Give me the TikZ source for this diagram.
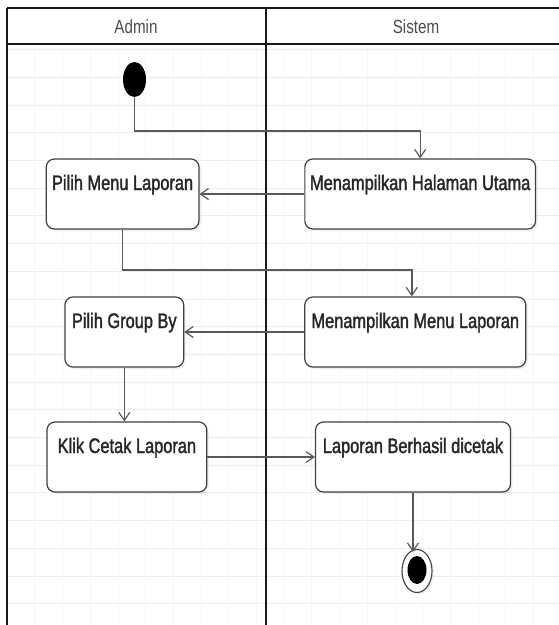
\documentclass[tikz,border=0pt]{standalone}
\usepackage{fontspec}
\setmainfont{Liberation Sans}[FakeStretch=0.8]
\newfontfamily\boxfont{Liberation Sans}[FakeStretch=0.78,FakeBold=1.6]
\usetikzlibrary{arrows.meta,shapes.geometric,shadows}
\tikzset{
  act/.style={draw=black!75, line width=1.2pt, rounded corners=8pt, fill=white,
    drop shadow={shadow xshift=2pt, shadow yshift=-2pt, opacity=0.12},
    inner sep=0pt, text height=31pt, text depth=39pt,
    font=\boxfont\fontsize{21}{24}\selectfont, text=black!85},
  conn/.style={draw=black!65, line width=1.4pt},
  arr/.style={conn, -{Straight Barb[length=8pt,width=11pt,line width=1.2pt]}},
  lane/.style={line width=2.4pt, black!90},
  hdr/.style={font=\fontsize{19}{21}\selectfont, text=black!70, inner sep=0pt},
}
\begin{document}
\begin{tikzpicture}[x=1pt,y=-1pt]
\useasboundingbox (0,0) rectangle (559,625);
\fill[white] (0,0) rectangle (559,625);
% grid
\begin{scope}
\clip (7,44) rectangle (559,625);
\foreach \k in {0,...,21} {
  \draw[black!7, line width=0.6pt] (7,{49.5+27.7*\k}) -- (559,{49.5+27.7*\k});
}
\foreach \k in {0,...,20} {
  \draw[black!4, line width=0.6pt] ({7+27.7*\k},44) -- ({7+27.7*\k},625);
}
\end{scope}
% swimlane frame
\draw[lane] (7,8) -- (559,8);
\draw[lane] (7,44) -- (559,44);
\draw[lane] (7,8) -- (7,625);
\draw[lane] (266,8) -- (266,625);
\node[hdr] (hadmin) at (136,27) {Admin};
\node[hdr] (hsistem) at (416,27) {Sistem};
% nodes
\node[ellipse, fill=black, minimum width=23pt, minimum height=35pt, inner sep=0pt] (start) at (134.5,79.5) {};
\node[act, minimum width=152.6pt] (b1) at (122.6,194) {Pilih Menu Laporan};
\node[act, minimum width=230.7pt] (b2) at (420.2,194) {Menampilkan Halaman Utama};
\node[act, minimum width=118.7pt] (b3) at (124.3,332) {Pilih Group By};
\node[act, minimum width=221pt] (b4) at (415.3,332) {Menampilkan Menu Laporan};
\node[act, minimum width=159.8pt] (b5) at (126.9,457) {Klik Cetak Laporan};
\node[act, minimum width=195pt] (b6) at (413,457) {Laporan Berhasil dicetak};
\node[ellipse, draw=black!75, line width=1.1pt, fill=white, minimum width=30pt, minimum height=43pt, inner sep=0pt,
  drop shadow={shadow xshift=2pt, shadow yshift=-2pt, opacity=0.12}] (endo) at (417,571) {};
\node[ellipse, fill=black, minimum width=19pt, minimum height=28pt, inner sep=0pt] (endi) at (417,570) {};
% connectors
\coordinate (c1) at (134.5,131);
\coordinate (c2) at (122.6,270);
\draw[arr] (start.south) -- (c1) -| (b2.north);
\draw[arr] (b2.west) -- (b1.east);
\draw[arr] (b1.south) -- (c2) -| ([xshift=-3.5pt]b4.north);
\draw[arr] (b4.west) -- (b3.east);
\draw[arr] (b3.south) -- (b3.south |- b5.north);
\draw[arr] (b5.east) -- (b6.west);
\draw[arr] (b6.south) -- ([yshift=-3pt]b6.south |- endo.north);
\end{tikzpicture}
\end{document}
